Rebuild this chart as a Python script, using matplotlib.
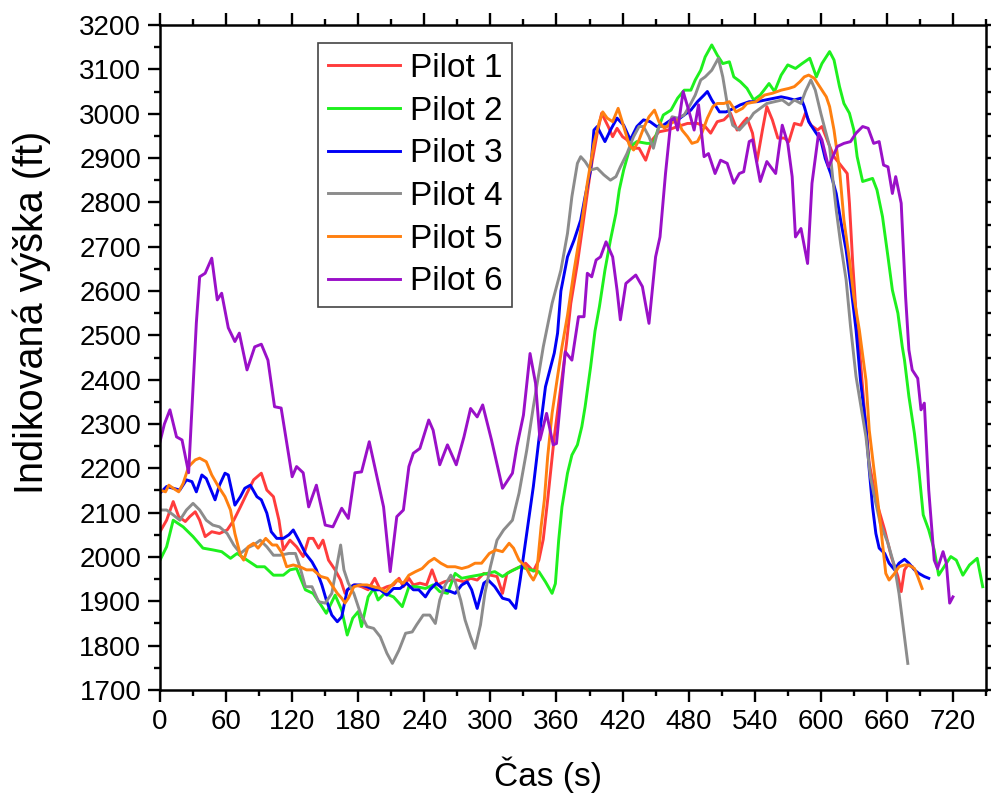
#!/usr/bin/env python3
"""Indicated altitude of six pilots over the flight time."""

import matplotlib
matplotlib.use("Agg")
import matplotlib.pyplot as plt
from matplotlib.ticker import MultipleLocator

# (time s, indicated altitude ft) samples per pilot
pilot1 = [(0, 2057), (6, 2083), (12, 2125), (17, 2091), (23, 2080), (27, 2091), (32, 2102), (36, 2083),
          (41, 2046), (47, 2057), (54, 2053), (61, 2061), (67, 2083), (73, 2113), (79, 2144), (85, 2174),
          (92, 2189), (97, 2151), (103, 2136), (108, 2083), (112, 2016), (118, 2038), (124, 2023), (130, 2001),
          (135, 2042), (139, 2042), (144, 2020), (148, 2038), (153, 1993), (159, 1971), (164, 1948), (168, 1918),
          (173, 1933), (177, 1937), (183, 1933), (189, 1926), (195, 1952), (200, 1926), (206, 1933), (212, 1937),
          (217, 1952), (221, 1933), (226, 1952), (230, 1937), (236, 1941), (242, 1937), (247, 1971), (252, 1937),
          (258, 1944), (264, 1948), (270, 1948), (276, 1944), (282, 1952), (288, 1948), (294, 1963), (300, 1959),
          (306, 1956), (311, 1918), (315, 1963), (321, 1971), (327, 1978), (332, 1986), (339, 1968), (344, 1993),
          (348, 2040), (352, 2129), (358, 2271), (360, 2309), (364, 2384), (369, 2480), (373, 2572), (379, 2662),
          (385, 2768), (391, 2873), (397, 2956), (401, 3001), (407, 2971), (411, 2948), (415, 2967), (420, 2948),
          (424, 2941), (430, 2922), (435, 2922), (441, 2895), (447, 2941), (453, 2959), (461, 2963), (470, 2971),
          (479, 2978), (488, 2978), (495, 2971), (500, 2956), (506, 2982), (512, 2986), (518, 3001), (524, 2963),
          (530, 2982), (533, 2990), (538, 2956), (542, 2892), (547, 2963), (551, 3016), (556, 2986), (561, 2945),
          (567, 2945), (571, 2937), (576, 2978), (582, 2974), (586, 3001), (591, 2974), (597, 2963), (601, 2971),
          (607, 2933), (612, 2903), (618, 2884), (624, 2865), (626, 2798), (629, 2662), (632, 2550), (635, 2474),
          (639, 2350), (644, 2211), (651, 2121), (658, 2061), (664, 2001), (670, 1956), (673, 1922), (676, 1971),
          (679, 1982), (683, 1978)]

pilot2 = [(0, 1993), (6, 2023), (12, 2083), (21, 2068), (30, 2046), (39, 2020), (48, 2016), (56, 2012),
          (64, 1997), (70, 2008), (79, 1993), (88, 1978), (95, 1978), (103, 1959), (112, 1959), (118, 1971),
          (124, 1974), (132, 1926), (139, 1918), (145, 1896), (151, 1873), (159, 1914), (165, 1880), (170, 1824),
          (175, 1862), (180, 1877), (183, 1843), (189, 1910), (194, 1929), (198, 1903), (204, 1918), (212, 1910),
          (220, 1888), (226, 1933), (233, 1933), (241, 1929), (248, 1937), (254, 1922), (261, 1918), (268, 1963),
          (274, 1952), (282, 1956), (289, 1959), (297, 1963), (304, 1967), (311, 1956), (318, 1967), (327, 1978),
          (336, 1971), (344, 1967), (350, 1944), (356, 1918), (359, 1940), (362, 2038), (365, 2113), (370, 2189),
          (374, 2230), (379, 2253), (383, 2294), (386, 2339), (391, 2429), (395, 2510), (399, 2565), (404, 2647),
          (409, 2715), (414, 2775), (417, 2828), (421, 2873), (427, 2926), (433, 2937), (442, 2933), (448, 2933),
          (453, 2971), (457, 2997), (464, 3008), (470, 3035), (476, 3053), (482, 3053), (486, 3076), (491, 3098),
          (495, 3128), (501, 3155), (506, 3132), (511, 3113), (517, 3117), (521, 3083), (527, 3072), (533, 3057),
          (539, 3031), (545, 3042), (553, 3068), (558, 3050), (564, 3087), (570, 3110), (577, 3102), (583, 3113),
          (590, 3125), (596, 3083), (601, 3113), (608, 3140), (612, 3121), (617, 3061), (621, 3023), (626, 3001),
          (630, 2963), (633, 2903), (638, 2847), (642, 2850), (647, 2854), (651, 2828), (656, 2768), (661, 2677),
          (665, 2602), (670, 2550), (674, 2474), (676, 2444), (680, 2362), (685, 2279), (689, 2196), (693, 2095),
          (698, 2061), (703, 2016), (707, 1959), (712, 1978), (718, 2001), (723, 1993), (729, 1959), (735, 1982),
          (742, 1997), (747, 1933)]

pilot3 = [(0, 2144), (6, 2159), (12, 2155), (18, 2151), (24, 2174), (29, 2170), (33, 2147), (38, 2185),
          (42, 2177), (45, 2159), (50, 2129), (54, 2162), (59, 2189), (62, 2185), (68, 2117), (73, 2136),
          (77, 2155), (82, 2162), (88, 2136), (92, 2129), (97, 2099), (101, 2057), (106, 2042), (112, 2042),
          (117, 2050), (121, 2061), (126, 2038), (132, 2008), (138, 1989), (142, 1971), (147, 1937), (151, 1903),
          (156, 1869), (161, 1854), (165, 1865), (170, 1926), (176, 1937), (182, 1937), (188, 1933), (194, 1926),
          (200, 1926), (206, 1914), (212, 1929), (218, 1929), (224, 1941), (230, 1926), (235, 1926), (241, 1910),
          (245, 1926), (251, 1941), (258, 1926), (264, 1922), (268, 1918), (274, 1937), (279, 1944), (283, 1926),
          (288, 1884), (294, 1941), (298, 1948), (304, 1933), (311, 1907), (317, 1903), (323, 1884), (327, 1948),
          (333, 2053), (339, 2159), (345, 2285), (350, 2384), (354, 2422), (358, 2460), (361, 2505), (364, 2600),
          (370, 2677), (376, 2715), (382, 2760), (386, 2813), (391, 2873), (394, 2963), (397, 2971), (400, 2956),
          (404, 2937), (409, 2963), (415, 2990), (421, 2974), (427, 2941), (433, 2971), (439, 2986), (445, 2982),
          (451, 2971), (457, 2974), (464, 2986), (470, 2986), (476, 2997), (482, 3008), (488, 3027), (494, 3042),
          (497, 3050), (501, 3031), (508, 3004), (514, 3004), (521, 3012), (527, 3020), (535, 3027), (542, 3027),
          (550, 3031), (558, 3035), (564, 3038), (570, 3035), (576, 3031), (582, 3035), (585, 3016), (589, 2982),
          (595, 2959), (600, 2941), (604, 2899), (609, 2865), (614, 2820), (618, 2760), (623, 2692), (627, 2617),
          (632, 2512), (636, 2399), (641, 2294), (644, 2196), (647, 2113), (650, 2053), (653, 2020), (658, 2008),
          (662, 1986), (667, 1971), (671, 1986), (676, 1995), (680, 1986), (685, 1971), (689, 1963), (694, 1956),
          (698, 1952)]

pilot4 = [(0, 2106), (6, 2106), (12, 2095), (18, 2083), (24, 2106), (30, 2121), (36, 2106), (42, 2083),
          (48, 2072), (54, 2068), (61, 2053), (67, 2027), (73, 2008), (79, 2020), (85, 2027), (91, 2038),
          (97, 2023), (103, 2004), (109, 2004), (117, 2008), (123, 2008), (127, 1978), (132, 1933), (138, 1933),
          (144, 1899), (150, 1896), (156, 1918), (161, 1986), (164, 2027), (167, 1971), (171, 1941), (176, 1918),
          (182, 1873), (188, 1843), (194, 1839), (200, 1820), (206, 1783), (211, 1760), (217, 1790), (223, 1828),
          (229, 1831), (233, 1847), (239, 1869), (245, 1869), (250, 1850), (254, 1903), (259, 1937), (264, 1959),
          (268, 1944), (273, 1903), (277, 1858), (282, 1820), (286, 1794), (291, 1847), (295, 1918), (300, 1978),
          (306, 2038), (312, 2061), (320, 2083), (326, 2144), (333, 2241), (339, 2339), (345, 2429), (348, 2474),
          (356, 2572), (364, 2647), (370, 2730), (374, 2813), (379, 2888), (382, 2903), (386, 2892), (391, 2873),
          (397, 2877), (403, 2862), (409, 2850), (414, 2858), (418, 2880), (424, 2910), (430, 2948), (435, 2971),
          (439, 2971), (444, 2948), (448, 2922), (453, 2971), (461, 2971), (465, 2993), (470, 2990), (476, 2997),
          (482, 3023), (486, 3042), (491, 3076), (495, 3083), (501, 3098), (507, 3125), (511, 3083), (515, 3023),
          (520, 2974), (526, 2963), (530, 2974), (536, 2990), (539, 3001), (545, 3012), (551, 3023), (558, 3027),
          (565, 3031), (571, 3020), (576, 3031), (582, 3023), (586, 3050), (591, 3076), (595, 3053), (600, 3001),
          (604, 2963), (608, 2926), (611, 2850), (614, 2783), (618, 2707), (623, 2625), (627, 2520), (632, 2407),
          (636, 2347), (641, 2271), (645, 2181), (650, 2121), (654, 2076), (661, 2031), (667, 1978), (671, 1918),
          (674, 1858), (677, 1798), (679, 1760)]

pilot5 = [(0, 2151), (5, 2147), (8, 2162), (12, 2155), (17, 2147), (21, 2166), (26, 2204), (32, 2219),
          (36, 2223), (42, 2215), (47, 2185), (53, 2159), (59, 2136), (64, 2106), (68, 2053), (73, 2004),
          (76, 1993), (80, 2023), (85, 2031), (89, 2020), (96, 2042), (102, 2027), (106, 2027), (111, 2008),
          (115, 1978), (121, 1982), (127, 1978), (133, 1971), (139, 1971), (146, 1956), (152, 1952), (156, 1937),
          (161, 1918), (165, 1907), (168, 1896), (171, 1907), (176, 1933), (182, 1937), (188, 1937), (194, 1933),
          (200, 1929), (205, 1922), (209, 1933), (215, 1948), (221, 1941), (226, 1959), (232, 1967), (238, 1974),
          (244, 1989), (249, 1997), (255, 1986), (261, 1978), (268, 1978), (274, 1974), (280, 1978), (286, 1986),
          (292, 1986), (299, 2008), (305, 2016), (311, 2012), (317, 2031), (321, 2020), (326, 1993), (332, 1978),
          (336, 1959), (339, 1948), (342, 1963), (346, 2068), (349, 2129), (352, 2226), (356, 2324), (361, 2407),
          (365, 2474), (370, 2545), (376, 2647), (382, 2738), (388, 2843), (394, 2933), (399, 2982), (402, 3004),
          (406, 2990), (411, 2982), (416, 3012), (421, 2971), (426, 2930), (430, 2918), (435, 2941), (439, 2967),
          (444, 2993), (449, 3008), (453, 2982), (458, 2967), (464, 2978), (470, 2986), (474, 2963), (479, 2948),
          (483, 2933), (488, 2937), (492, 2956), (497, 2990), (502, 3016), (506, 3023), (512, 3023), (517, 3027),
          (523, 3004), (529, 3012), (533, 3023), (541, 3027), (549, 3042), (556, 3046), (564, 3053), (571, 3057),
          (576, 3061), (581, 3072), (585, 3083), (589, 3087), (594, 3080), (600, 3057), (605, 3038), (608, 3016),
          (612, 2963), (617, 2873), (621, 2760), (626, 2670), (630, 2587), (635, 2512), (641, 2399), (644, 2286),
          (649, 2181), (653, 2099), (656, 2031), (659, 1963), (662, 1948), (667, 1963), (671, 1978), (676, 1982),
          (680, 1982), (685, 1974), (688, 1956), (692, 1929)]

pilot6 = [(0, 2260), (4, 2300), (9, 2332), (15, 2271), (20, 2264), (26, 2190), (33, 2528), (36, 2632),
          (41, 2640), (47, 2674), (52, 2580), (56, 2595), (62, 2517), (68, 2486), (72, 2505), (79, 2422),
          (86, 2474), (92, 2480), (98, 2444), (104, 2339), (110, 2336), (120, 2181), (124, 2204), (130, 2190),
          (135, 2113), (142, 2162), (150, 2072), (157, 2068), (165, 2110), (171, 2087), (177, 2190), (183, 2192),
          (190, 2260), (197, 2181), (203, 2113), (209, 1967), (215, 2091), (221, 2106), (226, 2204), (230, 2234),
          (236, 2245), (244, 2309), (248, 2286), (254, 2208), (261, 2253), (269, 2208), (276, 2271), (282, 2335),
          (288, 2316), (293, 2343), (301, 2264), (311, 2155), (320, 2189), (324, 2249), (330, 2320), (336, 2459),
          (341, 2392), (345, 2264), (351, 2324), (357, 2253), (360, 2256), (364, 2362), (368, 2463), (374, 2444),
          (380, 2542), (385, 2542), (388, 2640), (392, 2632), (396, 2670), (400, 2677), (405, 2711), (411, 2677),
          (415, 2602), (418, 2535), (423, 2617), (432, 2636), (438, 2610), (444, 2527), (450, 2677), (454, 2722),
          (459, 2865), (464, 2986), (467, 2990), (470, 2963), (475, 3050), (480, 3008), (485, 2963), (489, 3020),
          (494, 2903), (498, 2910), (504, 2865), (509, 2895), (515, 2888), (521, 2843), (526, 2865), (530, 2869),
          (535, 2937), (538, 2941), (545, 2847), (551, 2892), (559, 2865), (565, 2974), (570, 2933), (574, 2858),
          (577, 2722), (582, 2741), (588, 2662), (592, 2843), (598, 2956), (601, 2941), (607, 2880), (615, 2926),
          (621, 2933), (627, 2937), (632, 2956), (638, 2971), (643, 2967), (648, 2933), (653, 2937), (657, 2884),
          (661, 2880), (665, 2820), (668, 2858), (673, 2798), (677, 2587), (680, 2467), (683, 2422), (688, 2403),
          (691, 2332), (694, 2347), (698, 2151), (703, 1993), (706, 1974), (711, 2012), (714, 1986), (717, 1896),
          (720, 1910)]

labels = ["Pilot 1", "Pilot 2", "Pilot 3", "Pilot 4", "Pilot 5", "Pilot 6"]
colors = ["#ff3c3c", "#1ef01e", "#0000f5", "#8c8c8c", "#ff8010", "#9a10c8"]
series = [pilot1, pilot2, pilot3, pilot4, pilot5, pilot6]

plt.rcParams["font.family"] = ["Liberation Sans", "DejaVu Sans"]

fig = plt.figure(figsize=(9.91, 7.96), dpi=100)
ax = fig.add_axes([160 / 991, 1 - 690 / 796, 826 / 991, 665 / 796])

for data, name, col in zip(series, labels, colors):
    t, alt = zip(*data)
    ax.plot(t, alt, color=col, lw=2.1, label=name, solid_joinstyle="round")

ax.set_xlim(0, 750)
ax.set_ylim(1700, 3200)
ax.xaxis.set_major_locator(MultipleLocator(60))
ax.xaxis.set_minor_locator(MultipleLocator(30))
ax.yaxis.set_major_locator(MultipleLocator(100))
ax.yaxis.set_minor_locator(MultipleLocator(50))

ax.tick_params(which="both", direction="out", top=True, right=True,
               width=1.7, labelsize=20, color="black")
ax.tick_params(which="major", length=8.5, pad=5)
ax.tick_params(which="minor", length=4.5)
for sp in ax.spines.values():
    sp.set_linewidth(1.8)

ax.set_xlabel("Čas (s)", fontsize=24, va="center")
ax.xaxis.set_label_coords(0.47, -0.128)
ax.set_ylabel("Indikovaná výška (ft)", fontsize=28.5, va="center")
ax.yaxis.set_label_coords(-0.155, 0.568)

leg = ax.legend(loc="upper left", bbox_to_anchor=((318 - 160) / 826, (690 - 43) / 665),
                borderaxespad=0, fontsize=24, fancybox=False, framealpha=1,
                handlelength=2.15, handletextpad=0.3, labelspacing=0.35,
                borderpad=0.3)
leg.get_frame().set_edgecolor("#444444")
leg.get_frame().set_linewidth(1.2)

fig.savefig("out.png", dpi=100)
